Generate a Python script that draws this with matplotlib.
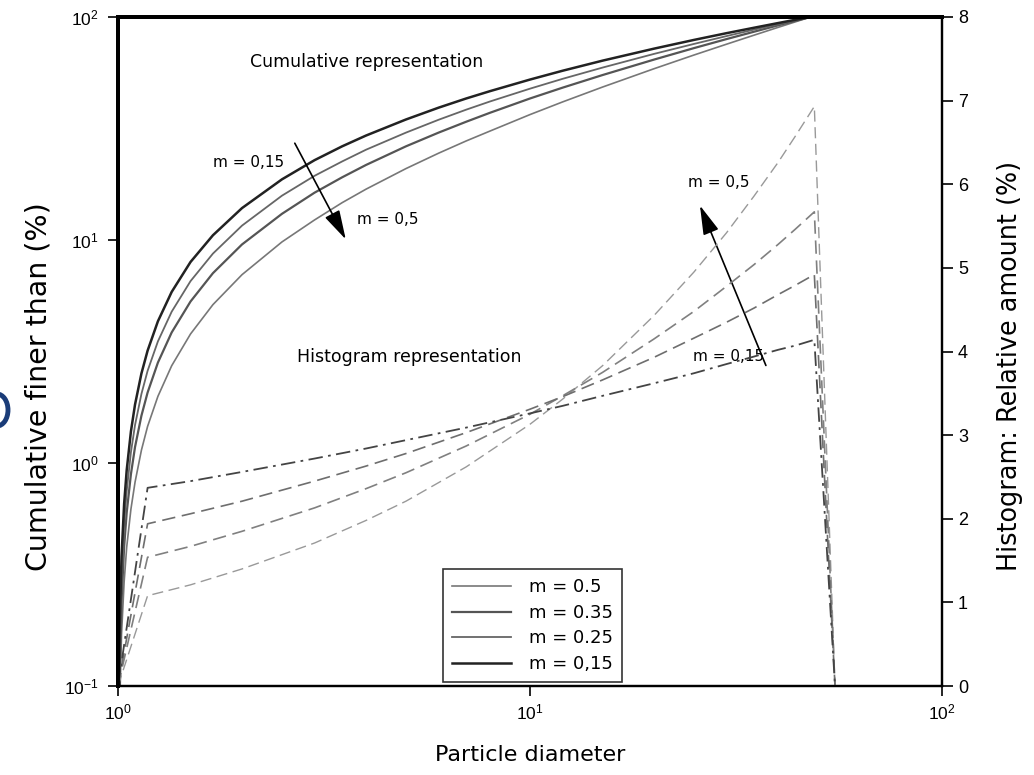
import numpy as np
from matplotlib import pyplot as plt
from matplotlib.patches import Arc

plt.rcParams['font.family'] = ['Liberation Sans', 'DejaVu Sans']
plt.rcParams['mathtext.fontset'] = 'custom'
plt.rcParams['mathtext.rm'] = 'Liberation Sans'
plt.rcParams['mathtext.it'] = 'Liberation Sans:italic'
WIDE = 'DejaVu Sans'

# particle diameters for the cumulative curves
d_cum = [1.003, 1.01, 1.02, 1.035, 1.05, 1.075, 1.1, 1.14, 1.18, 1.25, 1.35, 1.5, 1.7, 2, 2.5, 3,
         3.5, 4, 5, 6, 7, 8, 10, 12, 15, 20, 25, 30, 35, 40, 44, 48]
# cumulative finer than (%)
cum_015 = [0.057, 0.19, 0.38, 0.657, 0.93, 1.385, 1.83, 2.52, 3.19, 4.32, 5.85, 7.97, 10.5, 13.9, 18.7, 22.8,
           26.3, 29.4, 34.7, 39.2, 43.1, 46.5, 52.4, 57.4, 63.7, 72.1, 78.9, 84.6, 89.5, 93.9, 97.1, 100]
cum_025 = [0.046, 0.153, 0.30, 0.529, 0.75, 1.118, 1.48, 2.04, 2.59, 3.51, 4.77, 6.54, 8.69, 11.6, 15.8, 19.4,
           22.5, 25.4, 30.3, 34.6, 38.4, 41.8, 47.7, 52.8, 59.3, 68.3, 75.7, 82.1, 87.8, 92.8, 96.5, 100]
cum_035 = [0.037, 0.121, 0.24, 0.421, 0.60, 0.891, 1.18, 1.63, 2.07, 2.82, 3.85, 5.30, 7.10, 9.55, 13.1, 16.3,
           19.1, 21.7, 26.3, 30.3, 33.9, 37.2, 43.1, 48.2, 54.9, 64.4, 72.5, 79.6, 85.9, 91.7, 96.0, 100]
cum_05 = [0.025, 0.084, 0.17, 0.293, 0.42, 0.621, 0.82, 1.142, 1.46, 1.99, 2.73, 3.79, 5.13, 6.99, 9.80, 12.3,
          14.7, 16.9, 20.9, 24.5, 27.8, 30.8, 36.5, 41.6, 48.5, 58.6, 67.5, 75.5, 82.9, 89.8, 95.0, 100]

# histogram: relative amount (%)
d_hist = [1.0, 1.18, 1.5, 2, 3, 4, 5, 7, 10, 12, 15, 20, 25, 30, 35, 40, 44, 49, 55]
hist_015 = [0, 2.37, 2.45, 2.56, 2.72, 2.84, 2.94, 3.09, 3.26, 3.35, 3.47, 3.62, 3.74, 3.85, 3.94, 4.02, 4.07, 4.14, 0]
hist_025 = [0, 1.94, 2.06, 2.21, 2.45, 2.63, 2.78, 3.03, 3.31, 3.46, 3.66, 3.93, 4.16, 4.35, 4.52, 4.68, 4.79, 4.92, 0]
hist_035 = [0, 1.54, 1.67, 1.85, 2.13, 2.36, 2.55, 2.87, 3.25, 3.47, 3.75, 4.15, 4.48, 4.78, 5.04, 5.28, 5.46, 5.67, 0]
hist_05 = [0, 1.08, 1.21, 1.40, 1.71, 1.98, 2.21, 2.62, 3.13, 3.43, 3.83, 4.43, 4.95, 5.42, 5.86, 6.26, 6.57, 6.93, 0]

fig = plt.figure(figsize=(10.34, 7.75), dpi=100)
ax = fig.add_axes([0.1141, 0.1148, 0.7969, 0.8633])
ax2 = ax.twinx()

# cumulative curves (solid)
ax.plot(d_cum, cum_05, color='#777777', lw=1.2, label='m = 0.5')
ax.plot(d_cum, cum_035, color='#555555', lw=1.6, label='m = 0.35')
ax.plot(d_cum, cum_025, color='#666666', lw=1.3, label='m = 0.25')
ax.plot(d_cum, cum_015, color='#222222', lw=1.8, label='m = 0,15')

# histogram curves (dashed)
ax2.plot(d_hist, hist_05, color='#999999', lw=1.0, dashes=(8, 4))
ax2.plot(d_hist, hist_035, color='#808080', lw=1.2, dashes=(8, 4))
ax2.plot(d_hist, hist_025, color='#6e6e6e', lw=1.2, dashes=(8, 4))
ax2.plot(d_hist, hist_015, color='#444444', lw=1.3, dashes=(8, 3, 1.5, 3))

ax.set_xscale('log')
ax.set_yscale('log')
ax.set_xlim(1, 100)
ax.set_ylim(0.1, 100)
ax2.set_ylim(0, 8)
ax2.set_yticks(range(0, 9))
ax.minorticks_off()

for a in (ax, ax2):
    a.tick_params(direction='out', length=7, width=1.2, labelsize=12.5)
ax.tick_params(axis='y', pad=7)
ax.tick_params(axis='x', pad=5)
ax2.tick_params(labelsize=13, length=8)

for a in (ax, ax2):
    a.spines['top'].set_linewidth(2.8)
    a.spines['left'].set_linewidth(2.8)
    a.spines['bottom'].set_linewidth(1.6)
    a.spines['right'].set_linewidth(1.6)

ax.set_xlabel('Particle diameter', fontsize=16, family=WIDE, labelpad=16)
ax.set_ylabel('Cumulative finer than (%)', fontsize=20.5, family=WIDE)
ax2.set_ylabel('Histogram: Relative amount (%)', fontsize=18.4, family=WIDE)
ax.yaxis.set_label_coords(-0.079, 0.448)
ax2.yaxis.set_label_coords(1.0667, 0.478)

# annotations
ax.text(0.302, 0.9327, 'Cumulative representation', transform=ax.transAxes,
        fontsize=12.5, family=WIDE, ha='center', va='center')
ax.text(0.354, 0.4918, 'Histogram representation', transform=ax.transAxes,
        fontsize=12.5, family=WIDE, ha='center', va='center')
ax.text(0.1153, 0.7818, 'm = 0,15', transform=ax.transAxes, fontsize=11, family=WIDE, ha='left', va='center')
ax.text(0.290, 0.6966, 'm = 0,5', transform=ax.transAxes, fontsize=11, family=WIDE, ha='left', va='center')
ax.text(0.692, 0.7519, 'm = 0,5', transform=ax.transAxes, fontsize=11, family=WIDE, ha='left', va='center')
ax.text(0.698, 0.4918, 'm = 0,15', transform=ax.transAxes, fontsize=11, family=WIDE, ha='left', va='center')

arrow = dict(arrowstyle='-|>,head_length=1.8,head_width=0.5', color='black', lw=1.2)
ax.annotate('', xy=(0.278, 0.664), xytext=(0.213, 0.815),
            xycoords='axes fraction', arrowprops=arrow)
ax.annotate('', xy=(0.705, 0.722), xytext=(0.7876, 0.4753),
            xycoords='axes fraction', arrowprops=arrow)

leg = ax.legend(loc='lower left', bbox_to_anchor=(0.394, 0.006), prop={'family': WIDE, 'size': 13},
                frameon=True, fancybox=False, edgecolor='black', handlelength=3.3,
                handletextpad=1.0, borderpad=0.5, labelspacing=0.42, borderaxespad=0)
leg.get_frame().set_linewidth(1.2)

# stray glyph fragment at the left edge of the source image
fig.patches.append(Arc((-3 / 1034, 1 - 410 / 775), 22 / 1034, 32 / 775, theta1=-90, theta2=90,
                       transform=fig.transFigure, color='#1a3c78', lw=3.5))

plt.savefig('out.png', dpi=100)
